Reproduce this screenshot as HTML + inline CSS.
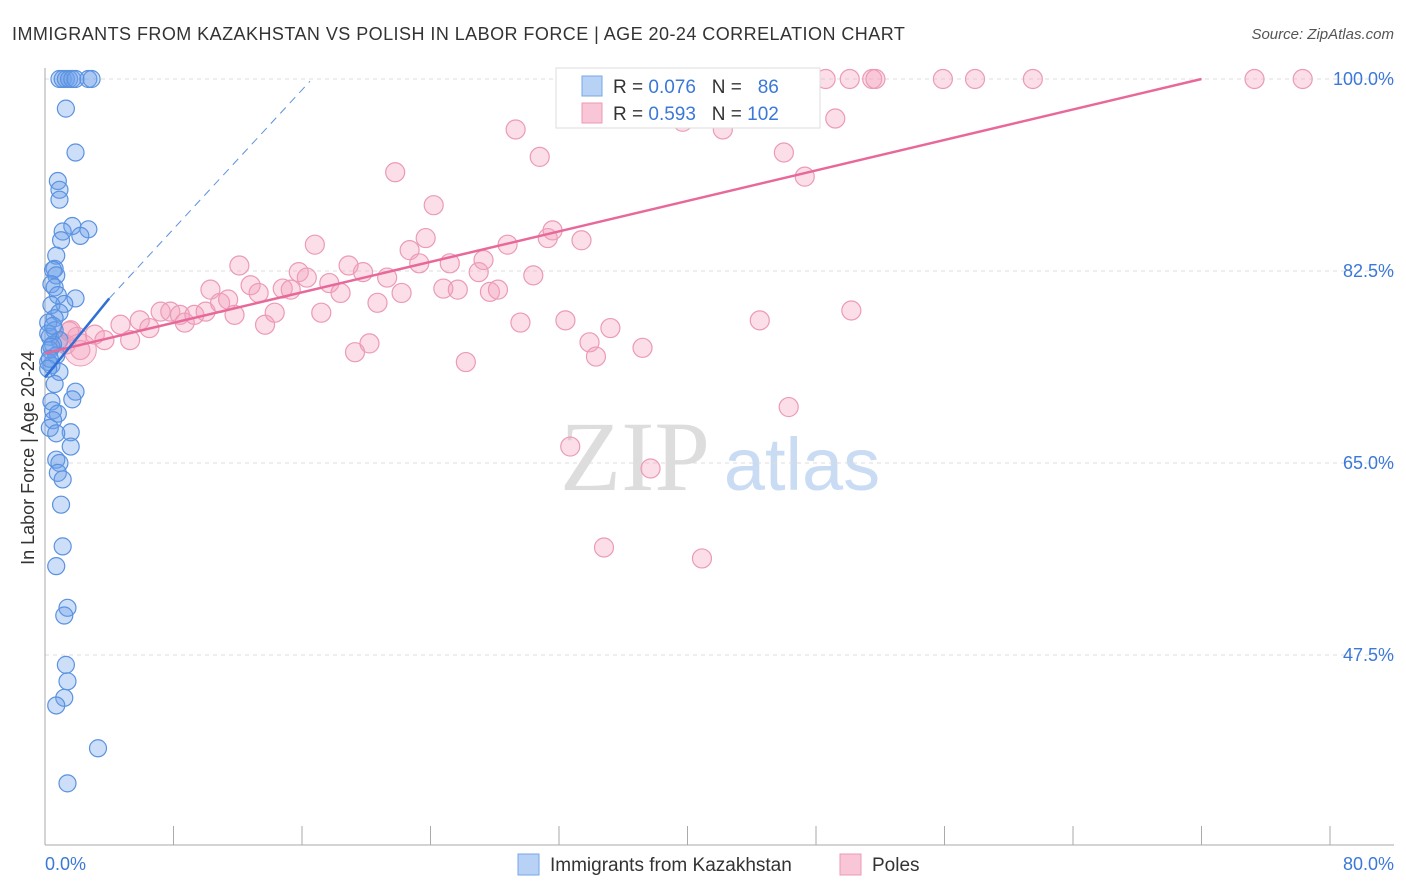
<!DOCTYPE html>
<html><head><meta charset="utf-8"><style>
body{margin:0;background:#fff;font-family:"Liberation Sans",sans-serif;}
svg{display:block}
</style></head><body>
<svg id="chart" width="1406" height="892">
<text x="12" y="40" font-size="18" fill="#333" letter-spacing="0.45">IMMIGRANTS FROM KAZAKHSTAN VS POLISH IN LABOR FORCE | AGE 20-24 CORRELATION CHART</text>
<text x="1394" y="39" font-size="15" fill="#555" font-style="italic" text-anchor="end">Source: ZipAtlas.com</text>
<text x="635" y="490" font-size="100" fill="#ddd" font-family="Liberation Serif,serif" text-anchor="middle">ZIP</text>
<text x="802" y="490" font-size="74" fill="#c9dcf3" text-anchor="middle">atlas</text>
<g id="grid"></g>
<g id="marks"></g>
<text transform="translate(34,458) rotate(-90)" font-size="18" fill="#333" text-anchor="middle">In Labor Force | Age 20-24</text>
<text x="45" y="870" font-size="18" fill="#3b78d8">0.0%</text>
<text x="1394" y="870" font-size="18" fill="#3b78d8" text-anchor="end">80.0%</text>
<g id="legend">
<rect x="556" y="68" width="264" height="60" fill="#fff" stroke="#ddd"/>
<rect x="582" y="76" width="20" height="20" fill="#b8d2f5" stroke="#7aa6e6"/>
<rect x="582" y="103" width="20" height="20" fill="#f8c6d6" stroke="#ec9ab6"/>
<text x="613" y="93" font-size="19" fill="#333" xml:space="preserve">R = <tspan fill="#3b78d8">0.076</tspan>   N =   <tspan fill="#3b78d8">86</tspan></text>
<text x="613" y="120" font-size="19" fill="#333" xml:space="preserve">R = <tspan fill="#3b78d8">0.593</tspan>   N = <tspan fill="#3b78d8">102</tspan></text>
</g>
<g>
<rect x="518" y="854" width="21" height="21" fill="#b8d2f5" stroke="#7aa6e6"/>
<text x="550" y="871" font-size="19" fill="#333">Immigrants from Kazakhstan</text>
<rect x="840" y="854" width="21" height="21" fill="#f8c6d6" stroke="#ec9ab6"/>
<text x="872" y="871" font-size="19" fill="#333">Poles</text>
</g>
</svg>
<script>
const yTicks=[100,82.5,65,47.5];
const yTickLabels=["100.0%","82.5%","65.0%","47.5%"];
const xTicks=[0,8,16,24,32,40,48,56,64,72,80];
const blueX=[0.9,1.1,1.3,1.5,1.7,1.9,2.7,2.9,1.3,1.9,0.8,0.9,0.9,1.7,2.7,1.1,1.0,2.2,0.7,0.6,0.5,0.7,0.4,0.6,0.8,1.9,1.2,0.4,0.9,0.6,0.2,0.6,0.3,0.9,0.5,0.3,0.7,0.2,0.4,0.9,0.6,1.9,1.7,0.4,0.5,0.8,0.5,0.3,1.6,0.7,1.6,0.7,0.9,0.8,1.1,1.0,1.1,0.7,1.4,1.2,1.3,1.4,1.2,0.7,3.3,1.4,0.2,0.4,0.3,0.5,0.2];
const blueY=[100,100,100,100,100,100,100,100,97.3,93.3,90.7,89.9,89.0,86.6,86.3,86.1,85.3,85.7,83.9,82.7,82.6,82.1,81.3,81.0,80.3,80.0,79.5,79.4,78.7,78.2,77.8,77.1,76.5,76.2,75.8,75.3,74.8,74.2,73.9,73.3,72.2,71.5,70.8,70.6,69.8,69.5,68.9,68.2,67.8,67.7,66.5,65.3,65.0,64.1,63.5,61.2,57.4,55.6,51.8,51.1,46.6,45.1,43.6,42.9,39.0,35.8,76.8,75.6,74.5,77.5,73.6];
const pinkX=[1.6,2.2,3.1,3.7,4.7,5.3,5.9,6.5,7.2,7.8,8.4,8.7,9.3,10.0,10.3,10.9,11.4,11.8,12.1,12.8,13.3,13.7,14.3,14.8,15.3,15.8,16.3,16.8,17.2,17.7,18.4,18.9,19.3,19.8,20.2,20.7,21.3,21.8,22.2,22.7,23.3,23.7,24.2,24.8,25.2,25.7,26.2,27.0,27.3,27.7,28.2,28.8,29.6,29.3,30.4,30.8,31.3,31.6,32.4,32.7,33.4,33.9,34.3,34.8,35.2,36.4,37.2,37.7,39.7,40.9,41.4,42.2,43.3,44.5,46.0,46.3,47.3,48.6,49.2,50.1,50.2,51.5,51.7,55.9,57.9,61.5,75.3,78.3,1.0,1.3,2.0,1.5];
const pinkY=[77.1,75.3,76.7,76.2,77.6,76.2,78.0,77.3,78.8,78.8,78.5,77.8,78.5,78.8,80.8,79.6,79.9,78.5,83.0,81.2,80.5,77.6,78.7,80.9,80.8,82.4,81.9,84.9,78.7,81.4,80.5,83.0,75.1,82.4,75.9,79.6,81.9,91.5,80.5,84.4,83.2,85.5,88.5,80.9,83.2,80.8,74.2,82.4,83.5,80.6,80.8,84.9,77.8,95.4,82.1,92.9,85.5,86.2,78.0,66.5,85.3,76.0,74.7,57.3,77.3,100,75.5,64.5,96.1,56.3,100,95.4,100,78.0,93.3,70.1,91.1,100,96.4,100,78.9,100,100,100,100,100,100,100,76.0,75.8,76.5,77.0];
const X0=45,X1=1330,Y100=79,Y47=655;
function sx(v){return X0+(v/80)*(X1-X0);}
function sy(v){return Y100+(100-v)/(100-47.5)*(Y47-Y100);}
const NS="http://www.w3.org/2000/svg";
const grid=document.getElementById('grid'),marks=document.getElementById('marks'),svg=document.getElementById('chart');
function mk(t,a,p){const e=document.createElementNS(NS,t);for(const k in a)e.setAttribute(k,a[k]);(p||svg).appendChild(e);return e;}
yTicks.forEach((t,i)=>{
 const l=mk('line',{x1:X0,x2:1394,y1:sy(t),y2:sy(t),stroke:'#ddd','stroke-dasharray':'4,4'},grid);
 
 
 const tx=mk('text',{x:1394,y:sy(t)+6,'font-size':18,fill:'#3b78d8','text-anchor':'end'},grid);
 tx.textContent=yTickLabels[i];
 
 
});
const ax=mk('line',{x1:X0,x2:X0,y1:68,y2:845,stroke:'#aaa'},grid);


const bx=mk('line',{x1:X0,x2:1394,y1:845,y2:845,stroke:'#aaa'},grid);


xTicks.forEach(t=>{const l=mk('line',{x1:sx(t),x2:sx(t),y1:826,y2:845,stroke:'#aaa'},grid);
 
 });
pinkX.forEach((x,i)=>{const c=mk('circle',{cx:sx(x),cy:sy(pinkY[i]),r:9.5,fill:'rgba(244,160,190,0.35)',stroke:'#ec9ab6','stroke-width':1.2},marks);
 
 });
blueX.forEach((x,i)=>{const c=mk('circle',{cx:sx(x),cy:sy(blueY[i]),r:8.5,fill:'rgba(110,160,235,0.35)',stroke:'#5a92e0','stroke-width':1.2},marks);
 
 });
const big=mk('circle',{cx:sx(2.2),cy:sy(75.3),r:16,fill:'rgba(244,160,190,0.35)',stroke:'#ec9ab6'},marks);


const pl=mk('line',{x1:sx(0),y1:sy(75.0),x2:sx(72),y2:sy(100),stroke:'#e8689a','stroke-width':2.5},marks);


const bd=mk('line',{x1:sx(4),y1:sy(80),x2:sx(16.5),y2:sy(99.8),stroke:'#5a92e0','stroke-width':1,'stroke-dasharray':'8,6'},marks);


const bl=mk('line',{x1:sx(0),y1:sy(72.8),x2:sx(4),y2:sy(80),stroke:'#2f6fd6','stroke-width':2.5},marks);


svg.appendChild(document.getElementById('legend'));
</script>
</body></html>
